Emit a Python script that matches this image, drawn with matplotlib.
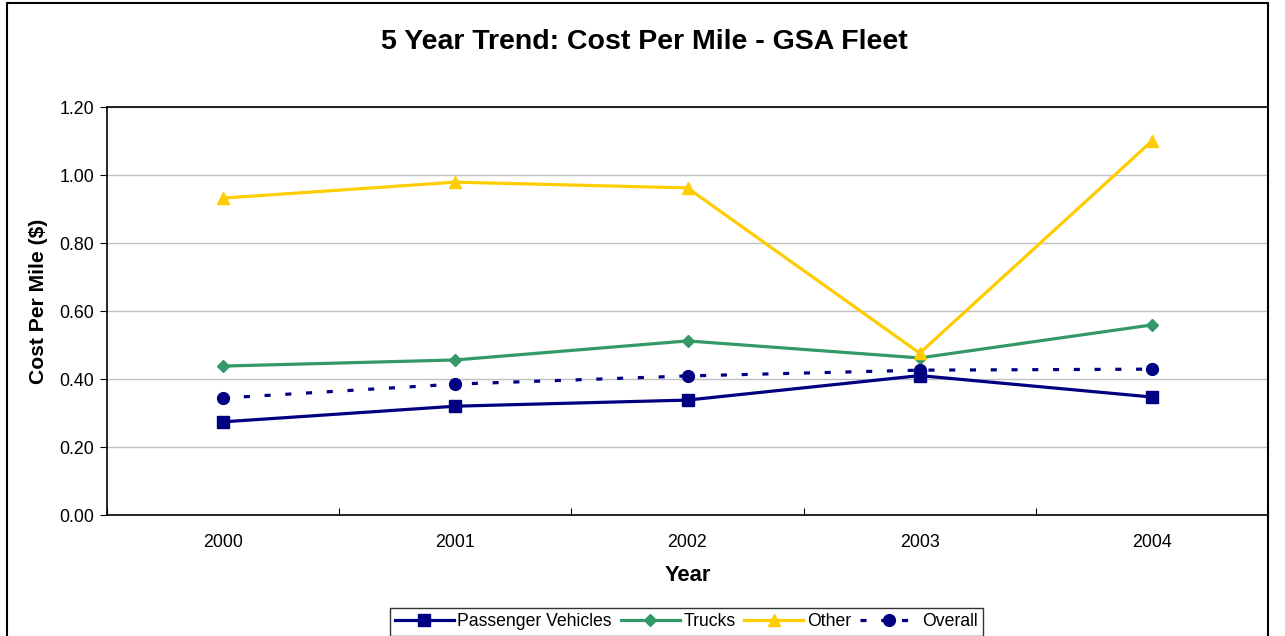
import matplotlib
matplotlib.use("Agg")
import matplotlib.pyplot as plt
from matplotlib.patches import Rectangle

years = ["2000", "2001", "2002", "2003", "2004"]
passenger = [0.274, 0.320, 0.338, 0.410, 0.347]
trucks = [0.438, 0.456, 0.512, 0.462, 0.559]
other = [0.932, 0.979, 0.962, 0.476, 1.100]
overall = [0.344, 0.385, 0.409, 0.426, 0.429]
yticks = [0.0, 0.2, 0.4, 0.6, 0.8, 1.0, 1.2]

plt.rcParams['font.family'] = ['Liberation Sans', 'DejaVu Sans']

W, H = 1285, 636
fig = plt.figure(figsize=(W / 100, H / 100), dpi=100)
ax = fig.add_axes([107 / W, 1 - 515 / H, (1268 - 107) / W, (515 - 107) / H])

x = list(range(len(years)))
navy = "#000080"
ax.plot(x, passenger, color=navy, lw=2.3, marker="s", ms=8, label="Passenger Vehicles", zorder=3)
ax.plot(x, trucks, color="#339966", lw=2.3, marker="D", ms=6.5, label="Trucks", zorder=3)
ax.plot(x, other, color="#FFCC00", lw=2.3, marker="^", ms=8.5, label="Other", zorder=3)
ax.plot(x, overall, color=navy, lw=2.3, ls=(0, (1.9, 4.6)), marker="o", ms=8.5, label="Overall", zorder=3)

ax.set_xlim(-0.5, len(years) - 0.5)
ax.set_ylim(0, 1.2)
ax.set_yticks(yticks)
ax.set_yticklabels([f"{v:.2f}" for v in yticks], fontsize=12.8)
ax.set_xticks([i - 0.5 for i in range(len(years) + 1)])
ax.set_xticklabels([])
ax.set_xticks(x, minor=True)
ax.set_xticklabels(years, minor=True, fontsize=12.8)
ax.tick_params(axis="x", which="minor", length=0, pad=14)
ax.tick_params(axis="x", which="major", length=5, direction="in", color="black")
ax.tick_params(axis="y", length=5, direction="out", pad=4)
ax.grid(axis="y", color="#c0c0c0", lw=1)
ax.set_axisbelow(True)
for s in ["left", "bottom", "top"]:
    ax.spines[s].set_linewidth(1.2)
    ax.spines[s].set_color("black")
ax.spines["right"].set_visible(False)

ax.set_xlabel("Year", fontsize=15.8, fontweight="bold", labelpad=10)
ax.set_ylabel("Cost Per Mile ($)", fontsize=15.2, fontweight="bold", va="center")
ax.yaxis.set_label_coords((39 - 107) / (1268 - 107), (515 - 301) / (515 - 107))
fig.text(644 / W, 1 - 42 / H, "5 Year Trend: Cost Per Mile - GSA Fleet", ha="center", va="center",
         fontsize=20.5, fontweight="bold")

leg = fig.legend(loc="center", bbox_to_anchor=(686.5 / W, 1 - 622 / H), ncol=4, fontsize=12.7,
                 frameon=True, fancybox=False, edgecolor="black", handlelength=3.35,
                 handletextpad=0.2, columnspacing=0.5, borderpad=0.3)
leg.get_frame().set_linewidth(1.0)

fig.patches.append(Rectangle((7 / W, -0.01), (1268 - 7) / W, 1.005, transform=fig.transFigure,
                             fill=False, edgecolor="black", lw=1.5))

fig.savefig("out.png", dpi=100)
